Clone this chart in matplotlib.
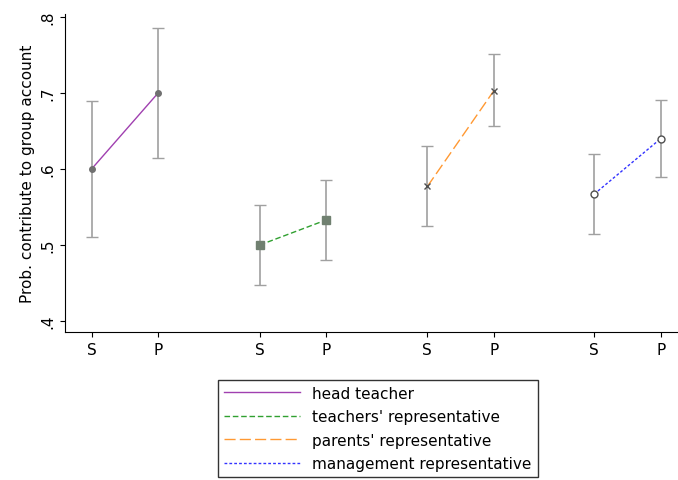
import matplotlib.pyplot as plt
import matplotlib.ticker as mticker

groups = ["head teacher", "teachers' representative", "parents' representative", "management representative"]
est = [[0.600, 0.700], [0.500, 0.533], [0.577, 0.703], [0.567, 0.640]]
lo = [[0.510, 0.615], [0.447, 0.480], [0.525, 0.656], [0.515, 0.590]]
hi = [[0.690, 0.785], [0.553, 0.586], [0.630, 0.752], [0.620, 0.691]]
xpos = [[0, 1], [2.53, 3.53], [5.05, 6.05], [7.56, 8.56]]
tick_labels = ["S", "P"]

colors = ["#a040b0", "#30a030", "#ff9933", "#3333ff"]
styles = ["-", (0, (4, 2)), (0, (8, 3)), (0, (2, 1.5))]
markers = [dict(marker="o", ms=4, mfc="#707070", mec="#707070"),
           dict(marker="s", ms=6, mfc="#708070", mec="#708070"),
           dict(marker="x", ms=5, mfc="#505050", mec="#505050"),
           dict(marker="o", ms=5, mfc="white", mec="#505050")]

fig = plt.figure(figsize=(6.78, 4.81), dpi=100)
ax = fig.add_axes([65/678, 1-333/481, 613/678, 318/481])

for i in range(4):
    x = xpos[i]
    for j in range(2):
        ax.errorbar(x[j], est[i][j], yerr=[[est[i][j]-lo[i][j]], [hi[i][j]-est[i][j]]],
                    fmt="none", ecolor="#a0a0a0", capsize=4, lw=1.2, zorder=1)
    ax.plot(x, est[i], color=colors[i], linestyle=styles[i], lw=1, label=groups[i], zorder=2)
    ax.plot(x, est[i], linestyle="none", zorder=3, **markers[i])

ax.set_xlim(-0.4, 8.82)
ax.set_ylim(0.3855, 0.804)
ax.set_yticks([0.4, 0.5, 0.6, 0.7, 0.8])
ax.yaxis.set_major_formatter(mticker.FuncFormatter(lambda v, p: ("%.1f" % v).lstrip("0")))
ax.set_xticks([p for x in xpos for p in x])
ax.set_xticklabels(tick_labels * 4)
for lab in ax.get_yticklabels():
    lab.set_rotation(90)
    lab.set_va("center")
ax.tick_params(labelsize=11)
ax.set_ylabel("Prob. contribute to group account", fontsize=11)
ax.spines["top"].set_visible(False)
ax.spines["right"].set_visible(False)

handles, labels = ax.get_legend_handles_labels()
fig.legend(handles, labels, loc="upper left", bbox_to_anchor=(210/678, 1-373/481),
           fontsize=11, frameon=True, fancybox=False, edgecolor="black",
           handlelength=5, labelspacing=0.55, borderpad=0.4)

fig.savefig("out.png")
